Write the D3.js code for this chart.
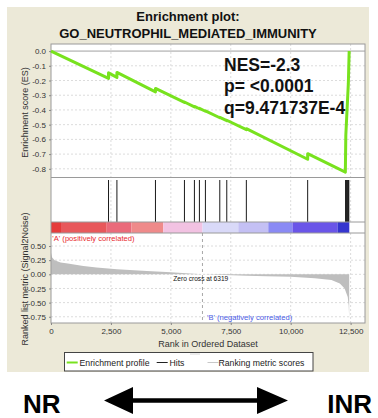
<!DOCTYPE html>
<html>
<head>
<meta charset="utf-8">
<script src="https://cdn.jsdelivr.net/npm/d3@7"></script>
<style>
  body { margin: 0; background: #fff; }
  text { font-family: "Liberation Sans", Arial, sans-serif; }
</style>
</head>
<body>
<div id="chart"></div>
<script>
// gene set hits (rank in ordered list)
const hitRanks = [2400, 2750, 4358, 5567, 5983, 6192, 6442, 7042, 7333, 8150, 10708,
  12290, 12310, 12335, 12360, 12385, 12405, 12425];

// running enrichment score, vertex by vertex
const esRanks = [0, 2400, 2400, 2750, 2750, 4358, 4358, 5567, 5567, 5983, 5983, 6192, 6192,
  6442, 6442, 7042, 7042, 7333, 7333, 8150, 8150, 10708, 10708, 12280, 12300, 12405, 12440];
const esValues = [0, -0.186, -0.148, -0.179, -0.145, -0.277, -0.254, -0.349, -0.346, -0.379, -0.376,
  -0.392, -0.389, -0.409, -0.406, -0.453, -0.45, -0.473, -0.47, -0.534, -0.527, -0.735, -0.697,
  -0.823, -0.57, -0.22, 0.0];

// ranked list metric (Signal2Noise)
const metricRanks = [0, 40, 150, 400, 700, 1350, 1900, 2750, 4000, 5000, 5800, 6319, 8150, 9000,
  10000, 11000, 11700, 12050, 12250, 12380, 12420, 12440];
const metricValues = [0.38, 0.30, 0.25, 0.21, 0.19, 0.145, 0.12, 0.09, 0.058, 0.035, 0.015, 0,
  -0.025, -0.032, -0.045, -0.07, -0.10, -0.16, -0.25, -0.40, -0.55, -0.78];

// heat bar under the hits
const barStops = [0, 417, 2324, 3358, 4685, 6320, 7814, 9066, 10075, 11952, 12445];
const barColors = ["#e53b3b", "#e8585b", "#ea6a7a", "#ef8a8a", "#f2c2e2", "#d9d9f8",
  "#c4c0f4", "#8a8af4", "#6a55e8", "#3535cf"];

const xTicks = [0, 2500, 5000, 7500, 10000, 12500];
const esTicks = [0.0, -0.1, -0.2, -0.3, -0.4, -0.5, -0.6, -0.7, -0.8];
const metricTicks = [0.50, 0.25, 0.00, -0.25, -0.50, -0.75];
const zeroCross = 6319;
const statLines = ["NES=-2.3", "p= <0.0001", "q=9.471737E-4"];

const W = 378, H = 418;
const left = 51, right = 365;
const esTop = 44, esBottom = 177.5;
const hitsTop = 180, barTop = 222, barBottom = 233;
const rankBottom = 323;

const svg = d3.select("#chart").append("svg")
  .attr("width", W).attr("height", H);

svg.append("rect").attr("width", W).attr("height", H).attr("fill", "#fff");
svg.append("rect").attr("x", 7).attr("y", 7).attr("width", 362).attr("height", 365)
  .attr("fill", "#ece9d8");

const x = d3.scaleLinear().domain([0, 13100]).range([left, right]);
const yES = d3.scaleLinear().domain([-0.859, 0.048]).range([esBottom, esTop]);
const yRank = d3.scaleLinear().domain([-0.86, 0.73]).range([rankBottom, barBottom]);

// plot backgrounds
svg.append("rect").attr("x", left).attr("y", esTop).attr("width", right - left)
  .attr("height", rankBottom - esTop).attr("fill", "#fff");

// title
svg.append("text").attr("x", 188).attr("y", 20.5).attr("text-anchor", "middle")
  .attr("font-size", "13px").attr("font-weight", "bold").attr("fill", "#111")
  .text("Enrichment plot:");
svg.append("text").attr("x", 188).attr("y", 37.7).attr("text-anchor", "middle")
  .attr("font-size", "13px").attr("font-weight", "bold").attr("fill", "#111")
  .text("GO_NEUTROPHIL_MEDIATED_IMMUNITY");

// grid
const grid = svg.append("g").attr("stroke", "#dcdcdc").attr("stroke-dasharray", "2,2")
  .attr("stroke-width", 1);
grid.selectAll(".vg").data(xTicks.slice(1)).enter().append("line")
  .attr("x1", d => x(d)).attr("x2", d => x(d))
  .attr("y1", esTop).attr("y2", barTop);
grid.selectAll(".vg2").data(xTicks.slice(1)).enter().append("line")
  .attr("x1", d => x(d)).attr("x2", d => x(d))
  .attr("y1", barBottom).attr("y2", rankBottom);
grid.selectAll(".hg").data(esTicks.slice(1)).enter().append("line")
  .attr("x1", left).attr("x2", right)
  .attr("y1", d => yES(d)).attr("y2", d => yES(d));
grid.selectAll(".hg2").data(metricTicks).enter().append("line")
  .attr("x1", left).attr("x2", right)
  .attr("y1", d => yRank(d)).attr("y2", d => yRank(d));

// ES zero line
svg.append("line").attr("x1", left).attr("x2", right)
  .attr("y1", yES(0)).attr("y2", yES(0)).attr("stroke", "#a0a0a0");

// ranked metric area
const metricData = metricRanks.map((r, i) => ({ r: r, v: metricValues[i] }));
svg.append("path").datum(metricData)
  .attr("d", d3.area().x(d => x(d.r)).y0(yRank(0)).y1(d => yRank(d.v)))
  .attr("fill", "#bebebe");

// zero cross
svg.append("line").attr("x1", x(zeroCross)).attr("x2", x(zeroCross))
  .attr("y1", barBottom).attr("y2", rankBottom)
  .attr("stroke", "#a8a8a8").attr("stroke-dasharray", "3,3");
svg.append("text").attr("x", 173.3).attr("y", 281.3)
  .attr("font-size", "6.6px").attr("fill", "#111").text("Zero cross at " + zeroCross);

// colour bar
svg.selectAll(".bar").data(barColors).enter().append("rect")
  .attr("x", (d, i) => x(barStops[i]))
  .attr("width", (d, i) => x(barStops[i + 1]) - x(barStops[i]))
  .attr("y", barTop).attr("height", barBottom - barTop)
  .attr("fill", d => d);

// hits
svg.selectAll(".hit").data(hitRanks).enter().append("line")
  .attr("x1", d => x(d)).attr("x2", d => x(d))
  .attr("y1", hitsTop).attr("y2", barTop)
  .attr("stroke", "#1a1a1a").attr("stroke-width", 1);

// panel borders
const border = svg.append("g").attr("stroke", "#9a9a9a").attr("fill", "none");
border.append("rect").attr("x", left).attr("y", esTop).attr("width", right - left)
  .attr("height", rankBottom - esTop);
[esBottom, barTop, barBottom].forEach(yy => border.append("line")
  .attr("x1", left).attr("x2", right).attr("y1", yy).attr("y2", yy));

// ES curve
const esData = esRanks.map((r, i) => ({ r: r, v: esValues[i] }));
svg.append("path").datum(esData)
  .attr("d", d3.line().x(d => x(d.r)).y(d => yES(d.v)))
  .attr("fill", "none").attr("stroke", "#78e21e").attr("stroke-width", 3)
  .attr("stroke-linejoin", "round");

// stats
svg.append("g").selectAll("text").data(statLines).enter().append("text")
  .attr("x", 224).attr("y", (d, i) => 70.7 + i * 21.7)
  .attr("font-size", "17.5px").attr("font-weight", "bold").attr("fill", "#111")
  .text(d => d);

// axes
const axisES = svg.append("g").attr("transform", `translate(${left},0)`)
  .call(d3.axisLeft(yES).tickValues(esTicks).tickSize(2).tickFormat(d => d.toFixed(1)));
const axisRank = svg.append("g").attr("transform", `translate(${left},0)`)
  .call(d3.axisLeft(yRank).tickValues(metricTicks).tickSize(2).tickFormat(d => d.toFixed(2)));
const axisX = svg.append("g").attr("transform", `translate(0,${rankBottom})`)
  .call(d3.axisBottom(x).tickValues(xTicks).tickSize(2).tickFormat(d3.format(",")));
[axisES, axisRank, axisX].forEach(a => {
  a.select(".domain").remove();
  a.selectAll("line").attr("stroke", "#888");
  a.selectAll("text").attr("font-size", "8px").attr("fill", "#333")
    .attr("font-family", "Liberation Sans, Arial, sans-serif");
});
axisX.selectAll("text").attr("y", 5);

// axis titles
svg.append("text").attr("transform", "translate(28,112.5) rotate(-90)")
  .attr("text-anchor", "middle").attr("font-size", "9px").attr("fill", "#333")
  .text("Enrichment score (ES)");
svg.append("text").attr("transform", "translate(28,279) rotate(-90)")
  .attr("text-anchor", "middle").attr("font-size", "9px").attr("fill", "#333")
  .text("Ranked list metric (Signal2Noise)");
svg.append("text").attr("x", 208).attr("y", 346.5).attr("text-anchor", "middle")
  .attr("font-size", "9px").attr("fill", "#333").text("Rank in Ordered Dataset");

// correlation labels
svg.append("text").attr("x", 52.3).attr("y", 241).attr("font-size", "7.6px")
  .attr("fill", "#e8282e").text("'A' (positively correlated)");
svg.append("text").attr("x", 207).attr("y", 320).attr("font-size", "7.6px")
  .attr("fill", "#4a5ae6").text("'B' (negatively correlated)");

// legend
const lg = svg.append("g");
lg.append("rect").attr("x", 64.5).attr("y", 352.5).attr("width", 248.5).attr("height", 18.5)
  .attr("fill", "#fff").attr("stroke", "#444");
const legendItems = [
  { label: "Enrichment profile", color: "#78e21e", x0: 66.7, tx: 79.5, w: 2 },
  { label: "Hits", color: "#222", x0: 156.7, tx: 169.5, w: 1 },
  { label: "Ranking metric scores", color: "#c8c8c8", x0: 207.5, tx: 218.5, w: 1 }
];
legendItems.forEach(it => {
  lg.append("line").attr("x1", it.x0).attr("x2", it.x0 + 11)
    .attr("y1", 362.5).attr("y2", 362.5).attr("stroke", it.color).attr("stroke-width", it.w);
  lg.append("text").attr("x", it.tx).attr("y", 365.5).attr("font-size", "8.7px")
    .attr("fill", "#222").text(it.label);
});
lg.append("line").attr("x1", 190).attr("x2", 200).attr("y1", 354).attr("y2", 354)
  .attr("stroke", "#d8d8d8");

// NR <-> INR arrow
svg.append("text").attr("x", 23).attr("y", 412.5).attr("font-size", "26px")
  .attr("font-weight", "bold").attr("fill", "#000").text("NR");
svg.append("text").attr("x", 372).attr("y", 412.5).attr("text-anchor", "end")
  .attr("font-size", "26px").attr("font-weight", "bold").attr("fill", "#000").text("INR");
const ay = 400.5;
svg.append("path")
  .attr("d", `M104,${ay} L133,${ay - 13.5} L133,${ay - 2.2} L257,${ay - 2.2} L257,${ay - 13.5}
    L288,${ay} L257,${ay + 13.5} L257,${ay + 2.2} L133,${ay + 2.2} L133,${ay + 13.5} Z`)
  .attr("fill", "#000");
</script>
</body>
</html>
